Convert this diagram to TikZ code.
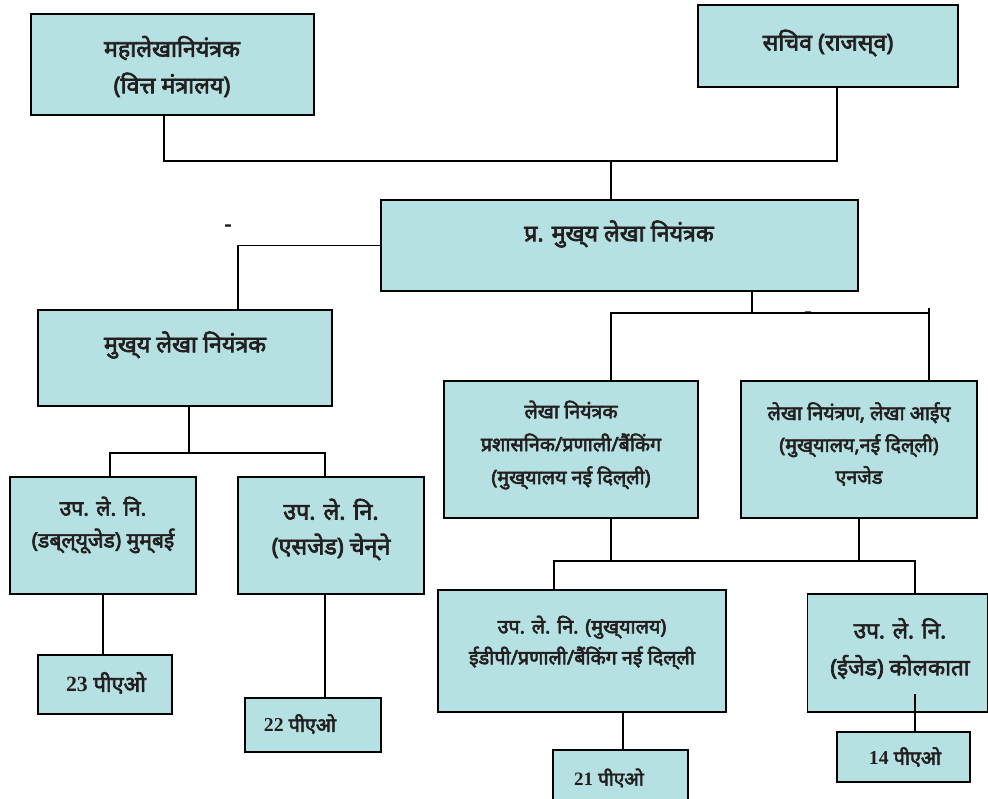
\documentclass[tikz,border=0pt]{standalone}
\usepackage{fontspec}
\setmainfont{Liberation Serif}
\newfontfamily\hindi[Script=Devanagari, FakeBold=3]{Noto Sans}
\usepackage{tikz}
\usetikzlibrary{positioning}
\definecolor{boxfill}{RGB}{182,225,226}
\definecolor{textdark}{RGB}{35,31,32}
\tikzset{
	box/.style={draw, line width=1pt, fill=boxfill, inner sep=0pt},
	txt/.style 2 args={font=\hindi\fontsize{#1}{#2}\selectfont, align=center, text=textdark, inner sep=0pt},
	line/.style={draw, line width=0.9pt},
}
\newcommand{\num}[1]{{\rmfamily\bfseries #1}}
\newcommand{\nj}{^^^^200c}

\begin{document}
\begin{tikzpicture}[x=0.025cm, y=-0.025cm]
	\useasboundingbox (0,0) rectangle (988,798);

	% boxes
	\node[box, minimum width=7.075cm, minimum height=2.525cm] (mahalekha) at (172.5,64.5) {};
	\node[box, minimum width=6.5cm, minimum height=2.05cm] (sachiv) at (828,46) {};
	\node[box, minimum width=11.925cm, minimum height=2.275cm] (pmln) at (619.5,245.5) {};
	\node[box, minimum width=7.35cm, minimum height=2.4cm] (mln) at (185,358) {};
	\node[box, minimum width=4.65cm, minimum height=2.925cm] (wz) at (103,535.5) {};
	\node[box, minimum width=4.65cm, minimum height=2.925cm] (sz) at (331,535.5) {};
	\node[box, minimum width=3.35cm, minimum height=1.475cm] (pao23) at (105,684.5) {};
	\node[box, minimum width=3.4cm, minimum height=1.35cm] (pao22) at (313,725) {};
	\node[box, minimum width=6.35cm, minimum height=3.425cm] (lnp) at (571,449.5) {};
	\node[box, minimum width=5.9cm, minimum height=3.425cm] (lni) at (859,449.5) {};
	\node[box, minimum width=7.2cm, minimum height=3.05cm] (upm) at (582,651) {};
	\node[box, minimum width=4.5cm, minimum height=2.95cm] (upk) at (897.5,653) {};
	\node[box, minimum width=3.375cm, minimum height=1.4cm] (pao21) at (620.5,778) {};
	\node[box, minimum width=3.325cm, minimum height=1.25cm] (pao14) at (903.5,757) {};

	% texts
	\node[txt={16.5}{26}] (t-mahalekha) at (172,66.5) {महालेखानियंत्रक\\(वित्त मंत्रालय)};
	\node[txt={16.5}{20}] (t-sachiv) at (828,43) {सचिव (राजस्\nj{}व)};
	\node[txt={16.5}{20}] (t-pmln) at (619,234) {प्र. मुख्\nj{}य लेखा नियंत्रक};
	\node[txt={16.5}{20}] (t-mln) at (185,345) {मुख्\nj{}य लेखा नियंत्रक};
	\node[txt={15}{22.7}] (t-wz) at (103,525) {उप. ले. नि.\\(डब्\nj{}ल्\nj{}यूजेड) मुम्\nj{}बई};
	\node[txt={16.5}{24.8}] (t-sz) at (331,529.5) {उप. ले. नि.\\(एसजेड) चेन्\nj{}ने};
	\node[txt={15.5}{20}] (t-pao23) at (106,683) {\num{23} पीएओ};
	\node[txt={14}{20}] (t-pao22) at (300,724) {\num{22} पीएओ};
	\node[txt={14}{23.4}] (t-lnp) at (571,445) {लेखा नियंत्रक\\प्रशासनिक/प्रणाली/बैंकिंग\\(मुख्\nj{}यालय नई दिल्\nj{}ली)};
	\node[txt={14}{22.7}] (t-lni) at (859,444) {लेखा नियंत्रण, लेखा आईए\\(मुख्\nj{}यालय,नई दिल्\nj{}ली)\\एनजेड};
	\node[txt={14}{22}] (t-upm) at (582,642.5) {उप. ले. नि. (मुख्\nj{}यालय)\\ईडीपी/प्रणाली/बैंकिंग नई दिल्\nj{}ली};
	\node[txt={16}{26.2}] (t-upk) at (900,648.5) {उप. ले. नि.\\(ईजेड) कोलकाता};
	\node[txt={13.5}{20}] (t-pao21) at (609,778) {\num{21} पीएओ};
	\node[txt={14}{20}] (t-pao14) at (905,757) {\num{14} पीएओ};
	\node[txt={15}{20}] (dash1) at (228,228) {-};
	\node[txt={15}{20}] (dash2) at (808,315) {-};

	% joints
	\coordinate (m1) at (164,161);
	\coordinate (s1) at (837,161);
	\coordinate (j1) at (611,161);
	\coordinate (c1) at (238,310);
	\coordinate (r1) at (752,313);
	\coordinate (k1) at (611,313);
	\coordinate (k2) at (929,313);
	\coordinate (w1) at (110,453);
	\coordinate (w2) at (325,453);
	\coordinate (w0) at (189,453);
	\coordinate (h1) at (554,561);
	\coordinate (h2) at (915,561);
	\coordinate (q1) at (623,712);

	% connectors
	\draw[line] (m1 |- mahalekha.south) -- (m1) -- (s1) -- (s1 |- sachiv.south);
	\draw[line] (j1) -- (j1 |- pmln.north);
	\draw[line] (pmln.west) -| (c1 |- mln.north);
	\draw[line] (r1 |- pmln.south) -- (r1);
	\draw[line] (k1 |- lnp.north) -- (k1) -- (k2);
	\draw[line] (k2 |- lni.north) -- ++(0,-72);
	\draw[line] (w0 |- mln.south) -- (w0);
	\draw[line] (w1 |- wz.north) |- (w2) -- (w2 |- sz.north);
	\draw[line] (wz.south) -- (wz.south |- pao23.north);
	\draw[line] (w2 |- sz.south) -- (w2 |- pao22.north);
	\draw[line] (k1 |- lnp.south) -- (k1 |- h1);
	\draw[line] (lni.south) -- (lni.south |- h1);
	\draw[line] (h1 |- upm.north) -- (h1) -- (h2) -- (h2 |- upk.north);
	\draw[line] (q1 |- upm.south) -- (q1 |- pao21.north);
	\draw[line] (h2 |- pao14.north) -- ++(0,-37);
\end{tikzpicture}
\end{document}
